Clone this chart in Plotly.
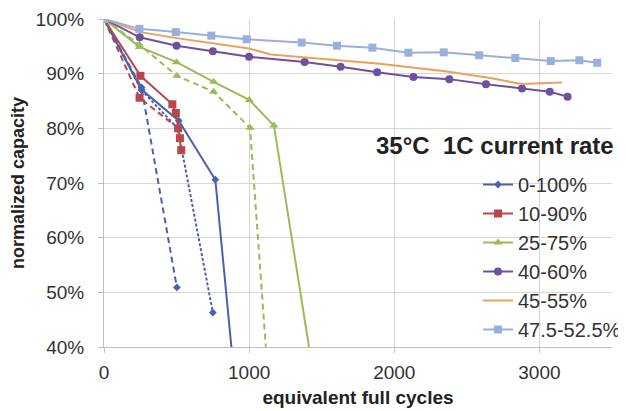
import plotly.graph_objects as go

# ---- data ----
s0100_x = [0, 258, 515, 767, 914]
s0100_y = [1.00, 0.871, 0.814, 0.706, 0.30]
s0100b_x = [0, 258, 502]
s0100b_y = [1.00, 0.875, 0.509]
s0100c_x = [0, 258, 508, 750]
s0100c_y = [1.00, 0.870, 0.800, 0.463]

s1090_x = [0, 251, 471, 495, 523]
s1090_y = [1.00, 0.896, 0.844, 0.828, 0.782]
s1090b_x = [0, 245, 511, 532]
s1090b_y = [1.00, 0.856, 0.800, 0.760]

s2575_x = [0, 244, 500, 755, 1001, 1171, 1472]
s2575_y = [1.00, 0.949, 0.921, 0.885, 0.852, 0.805, 0.30]
s2575b_x = [0, 245, 502, 755, 1006, 1142]
s2575b_y = [1.00, 0.953, 0.896, 0.867, 0.801, 0.30]

s4060_x = [0, 246, 500, 750, 999, 1382, 1630, 1882, 2132, 2379, 2632, 2880, 3071, 3194]
s4060_y = [1.00, 0.9665, 0.951, 0.941, 0.931, 0.9214, 0.9128, 0.9026, 0.894, 0.890, 0.8806, 0.873, 0.867, 0.858]

s4555_x = [0, 250, 500, 1000, 1150, 1645, 1900, 2362, 2641, 2876, 3155]
s4555_y = [1.00, 0.976, 0.965, 0.946, 0.935, 0.924, 0.918, 0.904, 0.893, 0.881, 0.884]

s475_x = [0, 244, 495, 739, 983, 1362, 1605, 1849, 2097, 2341, 2585, 2834, 3078, 3275, 3398]
s475_y = [1.00, 0.982, 0.976, 0.9696, 0.963, 0.957, 0.951, 0.9476, 0.9384, 0.939, 0.9336, 0.9287, 0.923, 0.9245, 0.920]

names = ["0-100%", "10-90%", "25-75%", "40-60%", "45-55%", "47.5-52.5%"]
title_txt = "35°C\u00a0\u00a01C current rate"

BLUE = "#4A62AD"
RED = "#B8474A"
GREEN = "#9BBB59"
PURPLE = "#6F4F9E"
ORANGE = "#E9A15B"
LBLUE = "#9AAFDB"

FONT = "Liberation Sans, Arial, sans-serif"

fig = go.Figure()

def add(x, y, color, name, symbol, size, dash="solid", legend=True, mode="lines+markers"):
    fig.add_trace(go.Scatter(
        x=x, y=y, name=name, mode=mode, showlegend=legend,
        line=dict(color=color, width=2, dash=dash),
        marker=dict(symbol=symbol, size=size, color=color),
    ))

# dashed companions (not in legend)
add(s0100b_x, s0100b_y, BLUE, "0-100% b", "diamond", 6, dash="6px,4px", legend=False)
add(s0100c_x, s0100c_y, BLUE, "0-100% c", "diamond", 6, dash="3px,2px", legend=False)
add(s1090b_x, s1090b_y, RED, "10-90% b", "square", 8, dash="6px,4px", legend=False)
add(s2575b_x, s2575b_y, GREEN, "25-75% b", "triangle-up", 8, dash="6px,4px", legend=False)

# main series
add(s0100_x, s0100_y, BLUE, names[0], "diamond", 6)
add(s1090_x, s1090_y, RED, names[1], "square", 8)
add(s2575_x, s2575_y, GREEN, names[2], "triangle-up", 8)
add(s4060_x, s4060_y, PURPLE, names[3], "circle", 8)
add(s4555_x, s4555_y, ORANGE, names[4], "circle", 8, mode="lines")
add(s475_x, s475_y, LBLUE, names[5], "square", 8)

fig.add_annotation(
    text="<b>" + title_txt + "</b>", xref="paper", yref="paper",
    x=1.008, y=0.614, xanchor="right", yanchor="middle", showarrow=False,
    font=dict(family=FONT, size=24, color="#222222"),
)

# page body has an 8px default margin, so the figure is sized to fit inside 626x411
fig.update_layout(
    width=618, height=403,
    margin=dict(l=96, r=14, t=11, b=64, autoexpand=False),
    paper_bgcolor="white", plot_bgcolor="white",
    font=dict(family=FONT, size=19, color="#333333"),
    legend=dict(
        x=1.0, xanchor="right", xref="container",
        y=1 - 157 / 403, yanchor="top", yref="container",
        bgcolor="rgba(0,0,0,0)", borderwidth=0,
        font=dict(family=FONT, size=20, color="#333333"),
        itemwidth=30, tracegroupgap=0,
    ),
    xaxis=dict(
        range=[0, 3500], dtick=1000, tick0=0,
        showgrid=True, gridcolor="#D6D6D6", gridwidth=1,
        showline=True, linecolor="#BFBFBF", linewidth=1,
        ticks="outside", ticklen=5, tickcolor="#BFBFBF",
        zeroline=False, automargin=False, ticklabelstandoff=3,
        tickfont=dict(family=FONT, size=19, color="#333333"),
        title=dict(text="<b>equivalent full cycles</b>", standoff=8,
                   font=dict(family=FONT, size=19, color="#222222")),
    ),
    yaxis=dict(
        range=[0.4, 1.0], dtick=0.1, tick0=0.4, tickformat=".0%",
        showgrid=True, gridcolor="#D6D6D6", gridwidth=1,
        showline=True, linecolor="#BFBFBF", linewidth=1,
        ticks="outside", ticklen=5, tickcolor="#BFBFBF",
        zeroline=False, automargin=False, ticklabelstandoff=10,
        tickfont=dict(family=FONT, size=19, color="#333333"),
        title=dict(text="<b>normalized capacity</b>", standoff=8,
                   font=dict(family=FONT, size=18, color="#222222")),
    ),
)

fig.write_html("out.html")
